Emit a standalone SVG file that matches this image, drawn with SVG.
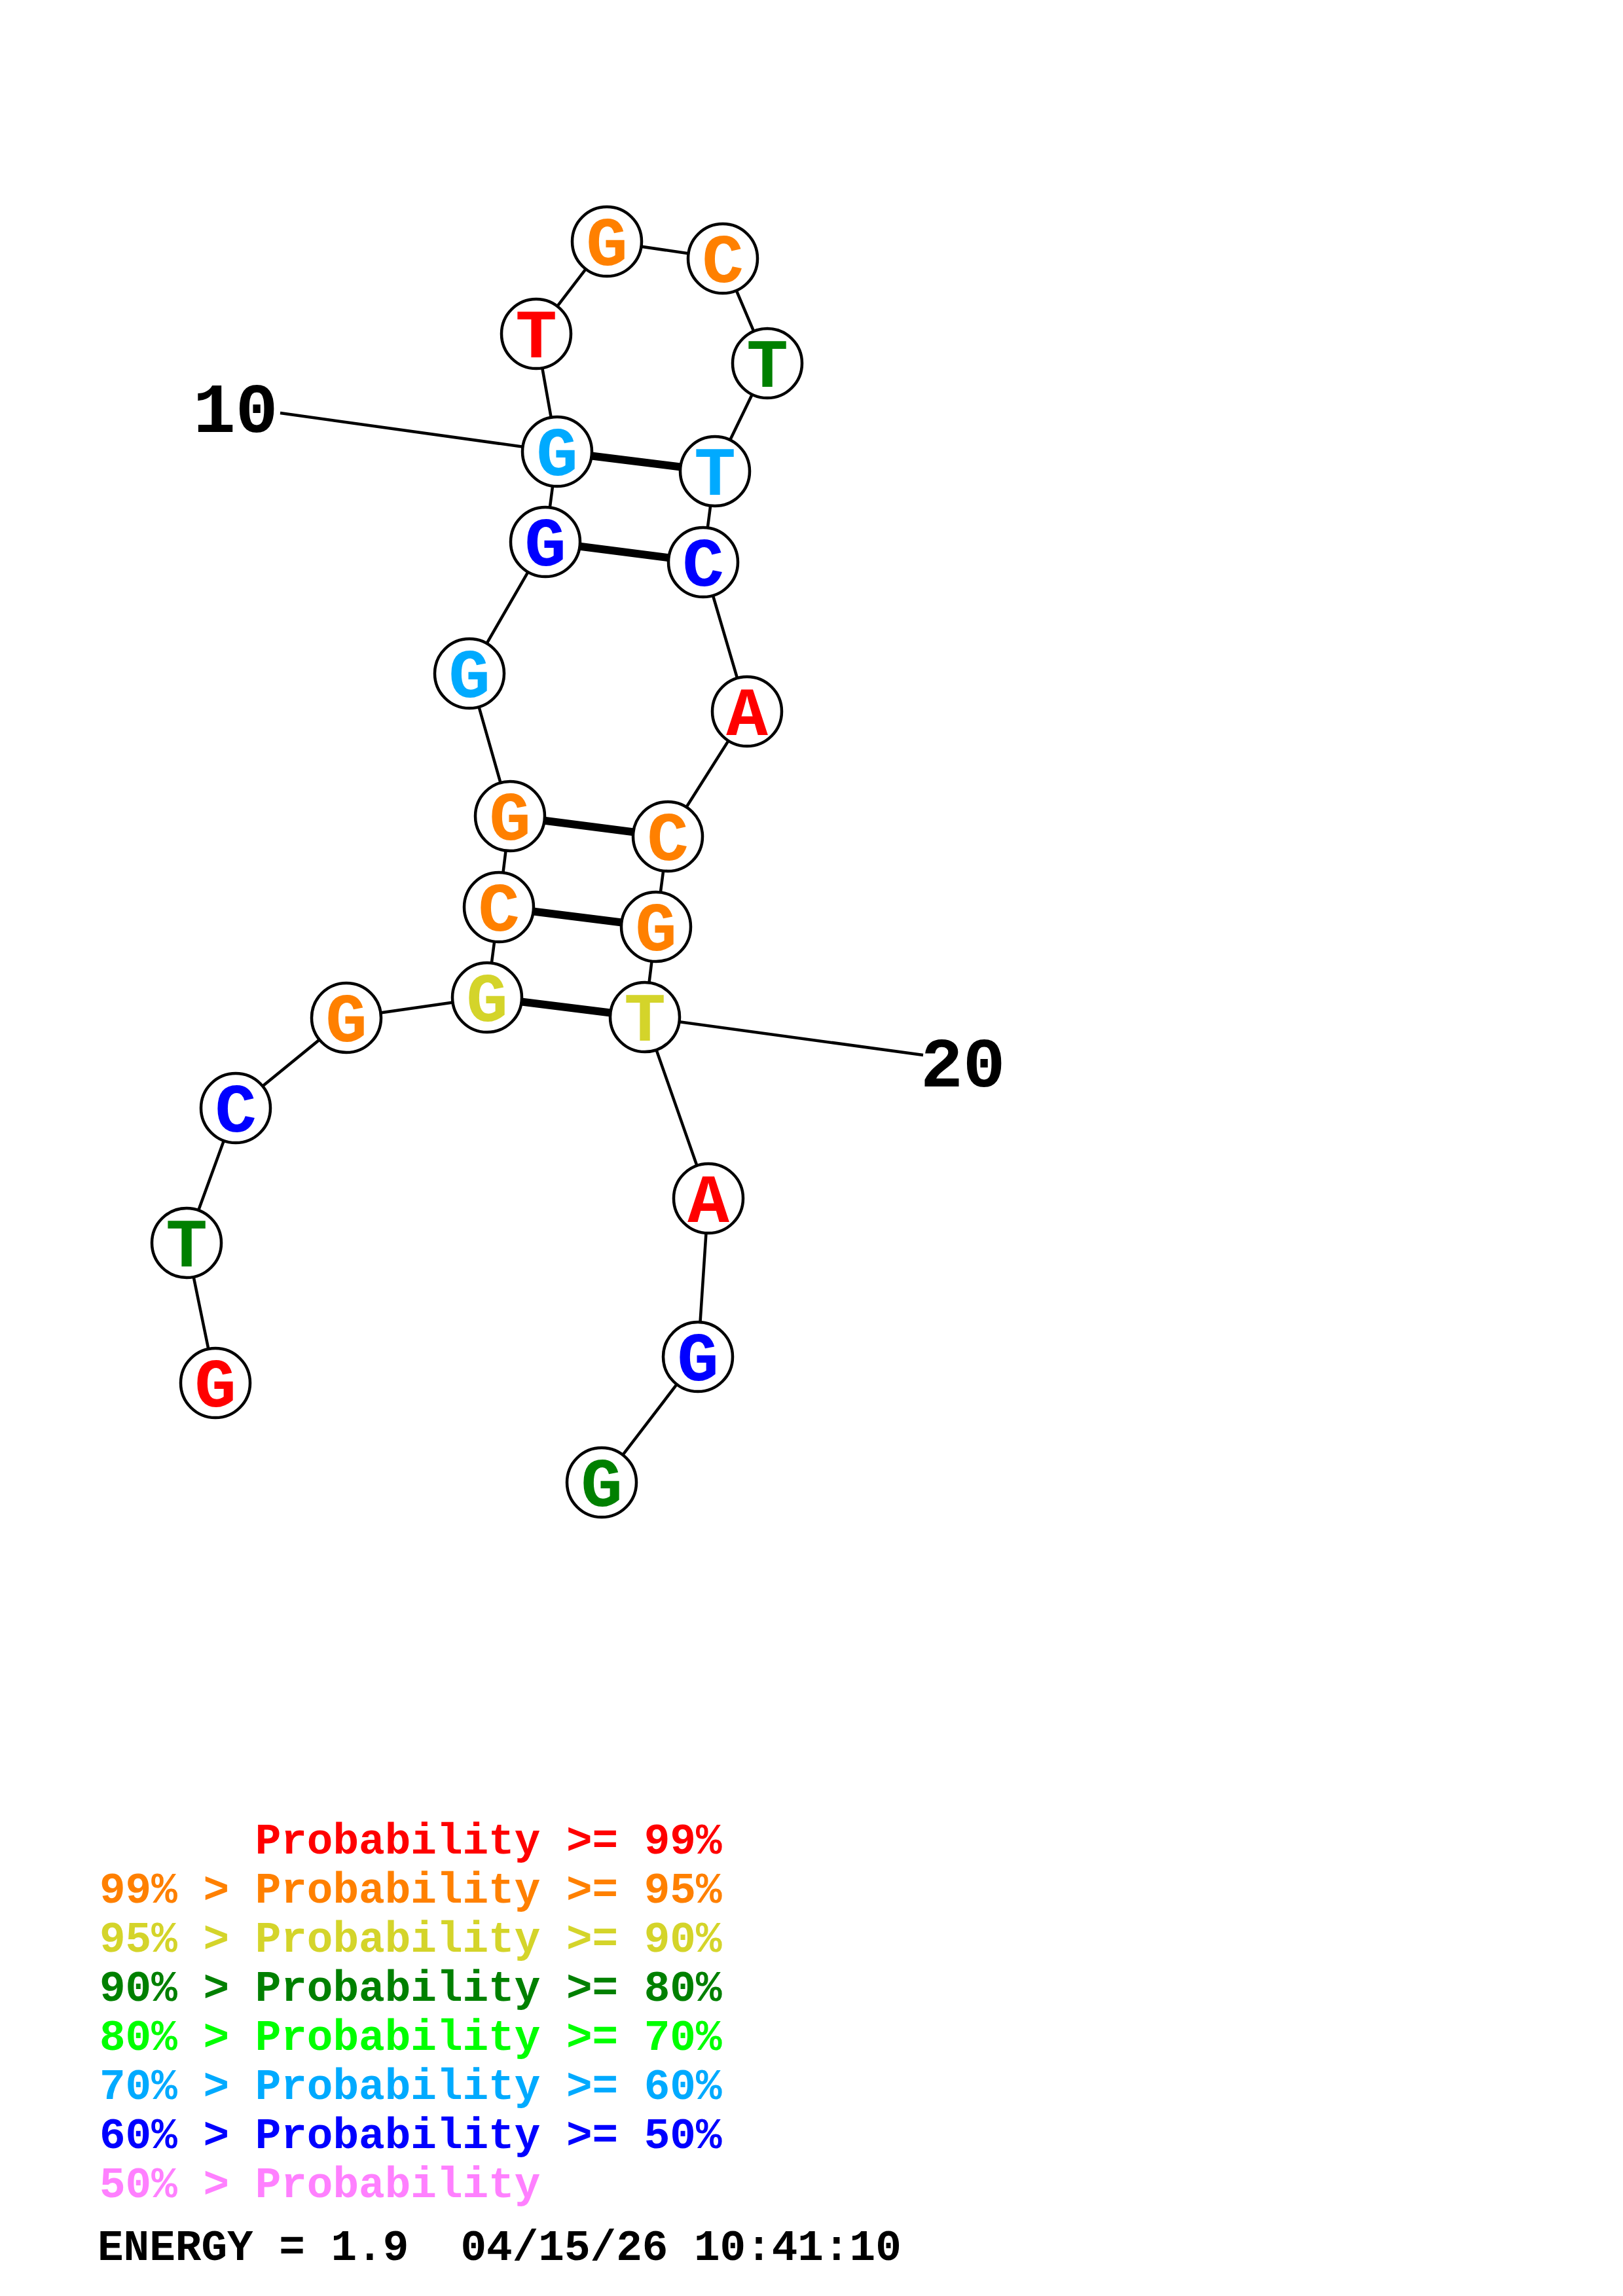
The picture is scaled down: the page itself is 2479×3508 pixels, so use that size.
<svg xmlns="http://www.w3.org/2000/svg" width="2479" height="3508" viewBox="0 0 2479 3508">
<style>
.bb{stroke:#000;stroke-width:4.5;fill:none}
.bp{stroke:#000;stroke-width:12;fill:none}
.nd{fill:#fff;stroke:#000;stroke-width:4.5}
.lt{font-family:"Liberation Mono","Courier New",monospace;font-weight:bold;font-size:106px;text-anchor:middle}
.num{font-family:"Liberation Mono","Courier New",monospace;font-weight:bold;font-size:108px;fill:#000}
.lg{font-family:"Liberation Mono","Courier New",monospace;font-weight:bold;font-size:66px;white-space:pre}
.r{fill:#FF0000}.o{fill:#FF8000}.y{fill:#D4D42A}.dg{fill:#008000}.g{fill:#00FF00}.lb{fill:#00AAFF}.b{fill:#0000FF}.p{fill:#FF80FF}
</style>
<rect width="2479" height="3508" fill="#fff"/>
<g id="connectors">
<polyline class="bb" points="329,2113 285,1899 360,1693 529,1555 744,1524 762,1386 779,1247 717,1029 833,828 851,690 819,510 927,369 1104,395 1172,555 1092,720 1074,859 1141,1087 1020,1278 1002,1416 985,1554 1082,1831 1066,2073 919,2265"/>
<line class="bb" x1="851" y1="690" x2="428" y2="631"/>
<line class="bb" x1="985" y1="1554" x2="1410" y2="1612"/>
<line class="bp" x1="744" y1="1524" x2="985" y2="1554"/>
<line class="bp" x1="762" y1="1386" x2="1002" y2="1416"/>
<line class="bp" x1="779" y1="1247" x2="1020" y2="1278"/>
<line class="bp" x1="833" y1="828" x2="1074" y2="859"/>
<line class="bp" x1="851" y1="690" x2="1092" y2="720"/>
</g>
<g id="n1"><circle class="nd" cx="329" cy="2113" r="53"/><text class="lt r" x="329" y="2149">G</text></g>
<g id="n2"><circle class="nd" cx="285" cy="1899" r="53"/><text class="lt dg" x="285" y="1935">T</text></g>
<g id="n3"><circle class="nd" cx="360" cy="1693" r="53"/><text class="lt b" x="360" y="1729">C</text></g>
<g id="n4"><circle class="nd" cx="529" cy="1555" r="53"/><text class="lt o" x="529" y="1591">G</text></g>
<g id="n5"><circle class="nd" cx="744" cy="1524" r="53"/><text class="lt y" x="744" y="1560">G</text></g>
<g id="n6"><circle class="nd" cx="762" cy="1386" r="53"/><text class="lt o" x="762" y="1422">C</text></g>
<g id="n7"><circle class="nd" cx="779" cy="1247" r="53"/><text class="lt o" x="779" y="1283">G</text></g>
<g id="n8"><circle class="nd" cx="717" cy="1029" r="53"/><text class="lt lb" x="717" y="1065">G</text></g>
<g id="n9"><circle class="nd" cx="833" cy="828" r="53"/><text class="lt b" x="833" y="864">G</text></g>
<g id="n10"><circle class="nd" cx="851" cy="690" r="53"/><text class="lt lb" x="851" y="726">G</text></g>
<g id="n11"><circle class="nd" cx="819" cy="510" r="53"/><text class="lt r" x="819" y="546">T</text></g>
<g id="n12"><circle class="nd" cx="927" cy="369" r="53"/><text class="lt o" x="927" y="405">G</text></g>
<g id="n13"><circle class="nd" cx="1104" cy="395" r="53"/><text class="lt o" x="1104" y="431">C</text></g>
<g id="n14"><circle class="nd" cx="1172" cy="555" r="53"/><text class="lt dg" x="1172" y="591">T</text></g>
<g id="n15"><circle class="nd" cx="1092" cy="720" r="53"/><text class="lt lb" x="1092" y="756">T</text></g>
<g id="n16"><circle class="nd" cx="1074" cy="859" r="53"/><text class="lt b" x="1074" y="895">C</text></g>
<g id="n17"><circle class="nd" cx="1141" cy="1087" r="53"/><text class="lt r" x="1141" y="1123">A</text></g>
<g id="n18"><circle class="nd" cx="1020" cy="1278" r="53"/><text class="lt o" x="1020" y="1314">C</text></g>
<g id="n19"><circle class="nd" cx="1002" cy="1416" r="53"/><text class="lt o" x="1002" y="1452">G</text></g>
<g id="n20"><circle class="nd" cx="985" cy="1554" r="53"/><text class="lt y" x="985" y="1590">T</text></g>
<g id="n21"><circle class="nd" cx="1082" cy="1831" r="53"/><text class="lt r" x="1082" y="1867">A</text></g>
<g id="n22"><circle class="nd" cx="1066" cy="2073" r="53"/><text class="lt b" x="1066" y="2109">G</text></g>
<g id="n23"><circle class="nd" cx="919" cy="2265" r="53"/><text class="lt dg" x="919" y="2301">G</text></g>
<g id="labels">
<text class="num" x="295" y="660">10</text>
<text class="num" x="1406" y="1660">20</text>
</g>
<g id="legend">
<text class="lg r" x="152" y="2832" xml:space="preserve">      Probability &gt;= 99%</text>
<text class="lg o" x="152" y="2907" xml:space="preserve">99% &gt; Probability &gt;= 95%</text>
<text class="lg y" x="152" y="2982" xml:space="preserve">95% &gt; Probability &gt;= 90%</text>
<text class="lg dg" x="152" y="3057" xml:space="preserve">90% &gt; Probability &gt;= 80%</text>
<text class="lg g" x="152" y="3132" xml:space="preserve">80% &gt; Probability &gt;= 70%</text>
<text class="lg lb" x="152" y="3207" xml:space="preserve">70% &gt; Probability &gt;= 60%</text>
<text class="lg b" x="152" y="3282" xml:space="preserve">60% &gt; Probability &gt;= 50%</text>
<text class="lg p" x="152" y="3357" xml:space="preserve">50% &gt; Probability</text>
<text class="lg" x="149" y="3453" fill="#000" xml:space="preserve">ENERGY = 1.9  04/15/26 10:41:10</text>
</g>
</svg>
